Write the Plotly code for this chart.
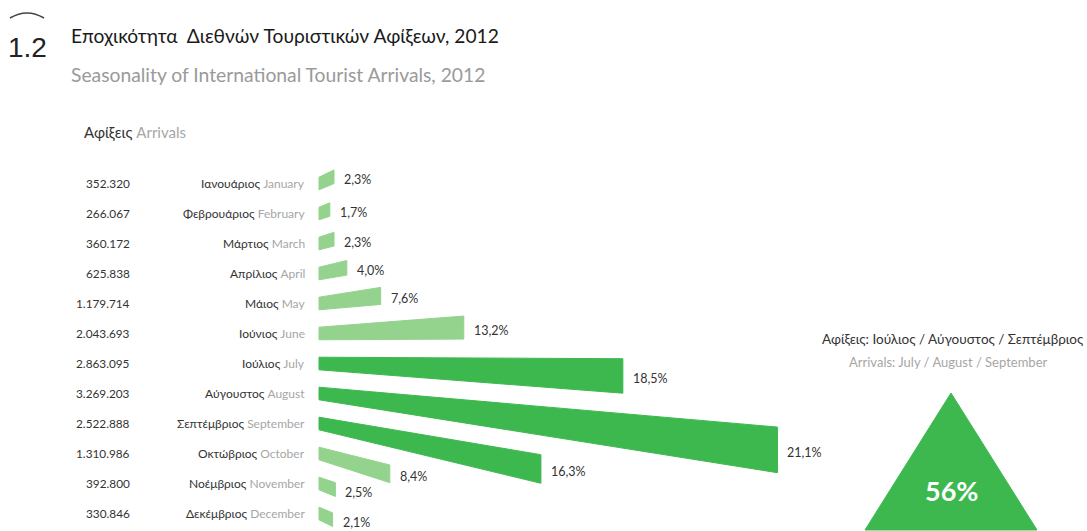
import plotly.graph_objects as go

# ---------------- data ----------------
months_gr = ["Ιανουάριος", "Φεβρουάριος", "Μάρτιος", "Απρίλιος", "Μάιος", "Ιούνιος",
             "Ιούλιος", "Αύγουστος", "Σεπτέμβριος", "Οκτώβριος", "Νοέμβριος", "Δεκέμβριος"]
months_en = ["January", "February", "March", "April", "May", "June",
             "July", "August", "September", "October", "November", "December"]
arrivals = [352320, 266067, 360172, 625838, 1179714, 2043693,
            2863095, 3269203, 2522888, 1310986, 392800, 330846]
shares = [2.3, 1.7, 2.3, 4.0, 7.6, 13.2, 18.5, 21.1, 16.3, 8.4, 2.5, 2.1]
summer = ["July", "August", "September"]

# ---------------- style ----------------
W, H = 1087, 531
FONT = "Lato"
DARK = "#333333"
GREY = "#a6a6a6"
LIGHT_GREEN = "#93d38d"
DARK_GREEN = "#3db84f"

X0 = 319.0        # left edge of the bars
ROW0 = 183.5      # first row centre
ROW_STEP = 30.0
D = 175.0         # perspective depth
K = 0.0343        # perspective strength per unit share
H0 = 6.3          # half height at the left edge
FAN = 0.082       # slope change per row


def proj(v):
    """perspective mapping of a share value to a horizontal position"""
    t = K * v
    return X0 + D * t / (1 - t)


fig = go.Figure()

for i, (v, en) in enumerate(zip(shares, months_en)):
    yc = ROW0 + ROW_STEP * i
    x1 = proj(v)
    L = x1 - X0
    s = FAN * (i - 5.5)
    h1 = H0 * (D + L) / D
    yr = yc + s * L
    xs = [X0, x1, x1, X0, X0]
    ys = [yc - H0, yr - h1, yr + h1, yc + H0, yc - H0]
    col = DARK_GREEN if en in summer else LIGHT_GREEN
    fig.add_trace(go.Scatter(x=xs, y=ys, mode="lines", fill="toself",
                             fillcolor=col, line=dict(color=col, width=1),
                             hoverinfo="skip", showlegend=False))
    label = f"{v:.1f}".replace(".", ",") + "%"
    fig.add_annotation(x=x1 + 8, y=yr + 3, text=label, showarrow=False,
                       xanchor="left", yanchor="middle",
                       font=dict(family=FONT, size=12.5, color=DARK))
    num = f"{arrivals[i]:,}".replace(",", ".")
    fig.add_annotation(x=132, y=yc, text=num, showarrow=False,
                       xanchor="right", yanchor="middle",
                       font=dict(family=FONT, size=11.8, color=DARK))
    fig.add_annotation(x=307, y=yc,
                       text=f"<span style='color:{DARK}'>{months_gr[i]}</span> "
                            f"<span style='color:{GREY}'>{en}</span>",
                       showarrow=False, xanchor="right", yanchor="middle",
                       font=dict(family=FONT, size=12, color=DARK))

# triangle summary
summer_total = sum(v for v, en in zip(shares, months_en) if en in summer)
tx, ty_top, ty_bot, half = 951, 393, 530, 86
fig.add_trace(go.Scatter(x=[tx, tx + half, tx - half, tx],
                         y=[ty_top, ty_bot, ty_bot, ty_top],
                         mode="lines", fill="toself", fillcolor=DARK_GREEN,
                         line=dict(color=DARK_GREEN, width=1),
                         hoverinfo="skip", showlegend=False))
fig.add_annotation(x=tx, y=490, text=f"<b>{round(summer_total)}%</b>", showarrow=False,
                   font=dict(family=FONT, size=27, color="white"))
fig.add_annotation(x=953, y=339,
                   text="Αφίξεις: Ιούλιος / Αύγουστος / Σεπτέμβριος", showarrow=False,
                   font=dict(family=FONT, size=13.5, color=DARK))
fig.add_annotation(x=948, y=362,
                   text="Arrivals: July / August / September", showarrow=False,
                   font=dict(family=FONT, size=13, color=GREY))

# headings
fig.add_annotation(x=69, y=35, text="Εποχικότητα  Διεθνών Τουριστικών Αφίξεων, 2012",
                   showarrow=False, xanchor="left", yanchor="middle",
                   font=dict(family=FONT, size=19.2, color="#1a1a1a"))
fig.add_annotation(x=69, y=74, text="Seasonality of International Tourist Arrivals, 2012",
                   showarrow=False, xanchor="left", yanchor="middle",
                   font=dict(family=FONT, size=19.3, color="#9a9a9a"))
fig.add_annotation(x=6, y=47, text="1.2", showarrow=False, xanchor="left", yanchor="middle",
                   font=dict(family="Liberation Sans", size=28, color="#222222"))
fig.add_shape(type="path", path="M 10 18 Q 27 8 44 18", xref="x", yref="y",
              line=dict(color="#444444", width=1.5))
fig.add_annotation(x=82, y=132,
                   text=f"<span style='color:{DARK}'>Αφίξεις</span> "
                        f"<span style='color:{GREY}'>Arrivals</span>",
                   showarrow=False, xanchor="left", yanchor="middle",
                   font=dict(family=FONT, size=15, color=DARK))

fig.update_layout(
    width=W, height=H, margin=dict(l=0, r=0, t=0, b=0),
    paper_bgcolor="white", plot_bgcolor="white",
    xaxis=dict(range=[0, W], visible=False, fixedrange=True),
    yaxis=dict(range=[H, 0], visible=False, fixedrange=True),
)

fig.write_html("out.html")
